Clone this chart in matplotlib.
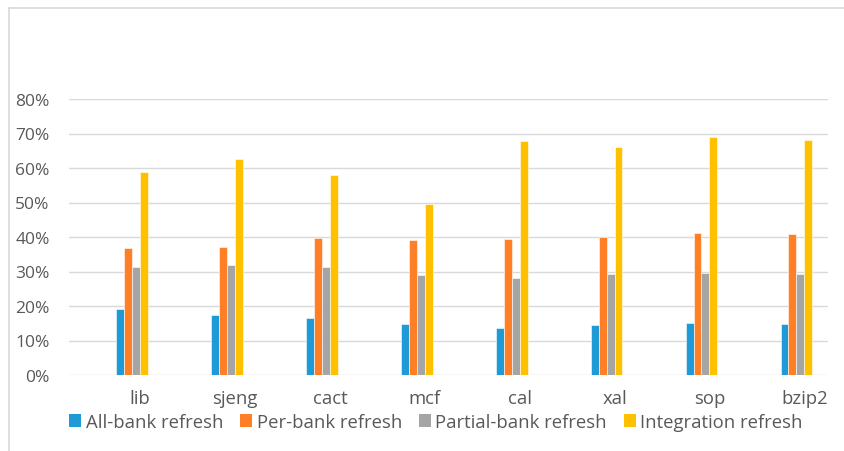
import matplotlib
matplotlib.use("Agg")
import matplotlib.pyplot as plt
from matplotlib.lines import Line2D
from matplotlib.patches import Patch
import numpy as np

plt.rcParams["font.family"] = ["Open Sans", "DejaVu Sans"]

benchmarks = ["lib", "sjeng", "cact", "mcf", "cal", "xal", "sop", "bzip2"]
series_names = ["All-bank refresh", "Per-bank refresh", "Partial-bank refresh", "Integration refresh"]
all_bank = [19.0, 17.3, 16.4, 14.9, 13.7, 14.4, 15.0, 14.8]
per_bank = [36.9, 37.1, 39.7, 39.0, 39.3, 39.9, 41.1, 41.0]
partial_bank = [31.4, 31.9, 31.2, 29.0, 28.2, 29.3, 29.5, 29.4]
integration = [58.7, 62.7, 58.1, 49.5, 67.8, 66.2, 69.0, 68.1]
colors = ["#1E9BD7", "#FF7F27", "#A5A5A5", "#FFC000"]
y_ticks = [0, 10, 20, 30, 40, 50, 60, 70, 80]

W, H = 845, 452
fig = plt.figure(figsize=(W / 100, H / 100), dpi=100)
ax = fig.add_axes([69 / W, 1 - 376 / H, (828 - 69) / W, (376 - 100) / H])

x = np.arange(len(benchmarks))
bw = 1 / 12
for k, (vals, c) in enumerate(zip([all_bank, per_bank, partial_bank, integration], colors)):
    ax.bar(x + bw * (k + 0.5), np.array(vals) / 100, width=bw, color=c,
           edgecolor="white", linewidth=0.4, zorder=3)

ax.set_xlim(-0.5, len(benchmarks) - 0.5)
ax.set_ylim(0, 0.8)
ax.set_yticks(np.array(y_ticks) / 100)
ax.set_yticklabels([f"{t}%" for t in y_ticks])
ax.set_xticks(x + 0.25)
ax.set_xticklabels(benchmarks)
ax.grid(axis="y", color="#D9D9D9", linewidth=1.0, zorder=0)
for s in ax.spines.values():
    s.set_visible(False)
ax.tick_params(axis="both", length=0, colors="#595959")
ax.tick_params(axis="y", pad=14, labelsize=12.5)
ax.tick_params(axis="x", pad=10, labelsize=13.3)

handles = [Patch(facecolor=c, edgecolor="none") for c in colors]
fig.legend(handles, series_names, loc="center", bbox_to_anchor=(436 / W, 1 - 423 / H),
           ncol=4, frameon=False, fontsize=13.3, labelcolor="#595959",
           handlelength=0.65, handleheight=0.65, handletextpad=0.25,
           columnspacing=0.9, borderpad=0)

# outer chart border (only top and left visible)
fig.add_artist(Line2D([9 / W, 1.0], [1 - 9 / H] * 2, color="#D9D9D9", linewidth=1.2,
                      transform=fig.transFigure))
fig.add_artist(Line2D([9 / W] * 2, [0, 1 - 9 / H], color="#D9D9D9", linewidth=1.2,
                      transform=fig.transFigure))

fig.savefig("out.png", dpi=100)
